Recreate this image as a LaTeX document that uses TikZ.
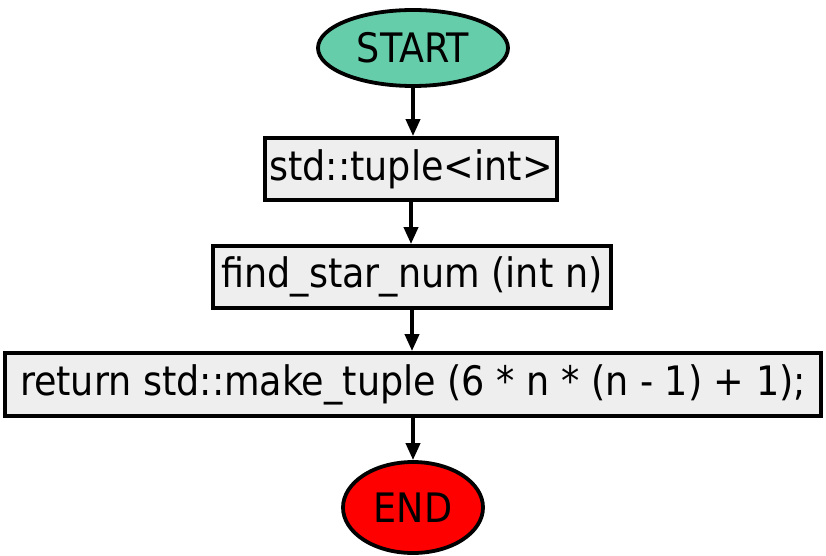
\documentclass[tikz,border=0pt]{standalone}
\usepackage{fontspec}
\setmainfont{DejaVu Sans Condensed}
\usetikzlibrary{shapes.geometric,arrows.meta}
\begin{document}
\begin{tikzpicture}[x=1pt,y=-1pt,
  term/.style={ellipse,draw=black,line width=3.8pt,inner sep=0pt,font=\fontsize{40.6}{46}\selectfont},
  proc/.style={rectangle,draw=black,line width=3.8pt,fill=procgray,inner sep=0pt,font=\fontsize{40.6}{46}\selectfont},
  flow/.style={line width=3.8pt,-{Triangle[length=17pt,width=14pt]}}]
\definecolor{procgray}{HTML}{EEEEEE}
\definecolor{startgreen}{HTML}{66CDAA}
\useasboundingbox (0,0) rectangle (826,556);
\node[term,fill=startgreen,minimum width=190pt,minimum height=76pt] (start) at (413,48) {START};
\node[proc,minimum width=292pt,minimum height=62pt] (b1) at (411,169) {std::tuple<int>};
\node[proc,minimum width=398pt,minimum height=62pt] (b2) at (412,277) {find\_star\_num (int n)};
\node[proc,minimum width=816pt,minimum height=63pt] (b3) at (413,384.5) {return std::make\_tuple (6 * n * (n - 1) + 1);};
\node[term,fill=red,minimum width=140pt,minimum height=91pt] (end) at (413,507.5) {END};
\draw[flow] (start) -- (start|-b1.north);
\draw[flow] (b1) -- (b1|-b2.north);
\draw[flow] (b2) -- (b2|-b3.north);
\draw[flow] (b3) -- (b3|-end.north);
\end{tikzpicture}
\end{document}
